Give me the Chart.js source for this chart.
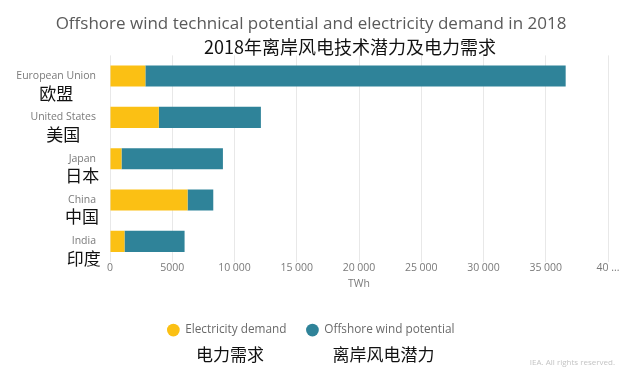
<!DOCTYPE html>
<html>
<head>
<meta charset="utf-8">
<script src="https://cdn.jsdelivr.net/npm/chart.js@4"></script>
<style>
  html, body { margin: 0; padding: 0; background: #fff; }
  #wrap { width: 640px; height: 376px; position: relative; }
</style>
</head>
<body>
<div id="wrap"><canvas id="chart" width="640" height="376"></canvas></div>
<script>
// --- data ---
const countries = ['European Union', 'United States', 'Japan', 'China', 'India'];
const countriesZh = ['欧盟', '美国', '日本', '中国', '印度'];
const demand = [2840, 3920, 925, 6230, 1165];        // TWh
const potential = [33760, 8200, 8145, 2065, 4825];   // TWh, stacked on demand
const seriesNames = ['Electricity demand', 'Offshore wind potential'];
const seriesNamesZh = ['电力需求', '离岸风电潜力'];
const xTicks = [0, 5000, 10000, 15000, 20000, 25000, 30000, 35000, 40000];
const titleEn = 'Offshore wind technical potential and electricity demand in 2018';
const titleZh = '2018年离岸风电技术潜力及电力需求';

const YELLOW = '#fbc014';
const TEAL = '#2f8399';
const ZH_FONT = '"Noto Sans CJK SC", sans-serif';

function fmt(v) {
    if (v === 40000) return '40 ...';
    if (v < 10000) return String(v);
    return String(v).replace(/\B(?=(\d{3})+(?!\d))/g, ' ');
}

// 中文标注 (副标题, y 轴标签下方, 图例下方, 水印)
const zhLabels = {
    id: 'zhLabels',
    afterDraw(chart) {
        const c = chart.ctx;
        const y = chart.scales.y;
        c.save();
        c.textBaseline = 'middle';
        c.textAlign = 'center';
        c.fillStyle = '#111';
        c.font = '18px ' + ZH_FONT;
        c.fillText(titleZh, 350, 47);

        countries.forEach((name, i) => {
            c.font = '10.5px "Open Sans"';
            const w = c.measureText(name).width;
            const right = y.right - 14;
            const py = y.getPixelForValue(i);
            c.font = '17px ' + ZH_FONT;
            c.fillText(countriesZh[i], right - w / 2, py + 17);
        });
        chart.legend.legendHitBoxes.forEach((b, i) => {
            c.font = '17px ' + ZH_FONT;
            c.fillText(seriesNamesZh[i], b.left + b.width / 2 + 3, 355);
        });
        c.font = '8px "Open Sans"';
        c.fillStyle = '#c4c4c4';
        c.textAlign = 'right';
        c.fillText('IEA. All rights reserved.', 615, 363);
        c.restore();
    }
};

new Chart(document.getElementById('chart'), {
    type: 'bar',
    data: {
        labels: countries,
        datasets: [
            { label: seriesNames[0], data: demand, backgroundColor: YELLOW },
            { label: seriesNames[1], data: potential, backgroundColor: TEAL }
        ]
    },
    options: {
        indexAxis: 'y',
        responsive: false,
        animation: false,
        datasets: { bar: { categoryPercentage: 1, barPercentage: 0.51 } },
        layout: { padding: { left: 14, right: 32, top: 0, bottom: 30 } },
        scales: {
            x: {
                stacked: true,
                min: 0,
                max: 40000,
                afterBuildTicks(scale) { scale.ticks = xTicks.map(v => ({ value: v })); },
                ticks: {
                    color: '#7a7a7a',
                    font: { family: 'Open Sans', size: 10.5 },
                    padding: 0,
                    maxRotation: 0,
                    callback: v => fmt(v)
                },
                grid: { color: '#e8e8e8', drawTicks: false },
                border: { display: false },
                title: {
                    display: true,
                    text: 'TWh',
                    color: '#7a7a7a',
                    font: { family: 'Open Sans', size: 10.5 },
                    padding: { top: 3, bottom: 14 }
                }
            },
            y: {
                stacked: true,
                afterFit(scale) { scale.width = 96; },
                ticks: {
                    color: '#7a7a7a',
                    font: { family: 'Open Sans', size: 10.5 },
                    padding: 14
                },
                grid: { display: false, drawTicks: false },
                border: { display: false }
            }
        },
        plugins: {
            title: {
                display: true,
                text: titleEn,
                color: '#5a5a5a',
                font: { family: 'Open Sans', size: 17, weight: 'normal' },
                padding: { top: 14, bottom: 21 }
            },
            legend: {
                position: 'bottom',
                labels: {
                    usePointStyle: true,
                    pointStyle: 'circle',
                    boxWidth: 12,
                    boxHeight: 9,
                    color: '#6a6a6a',
                    font: { family: 'Open Sans', size: 11.8 },
                    padding: 20
                }
            },
            tooltip: { enabled: false }
        }
    },
    plugins: [zhLabels]
});
</script>
</body>
</html>
